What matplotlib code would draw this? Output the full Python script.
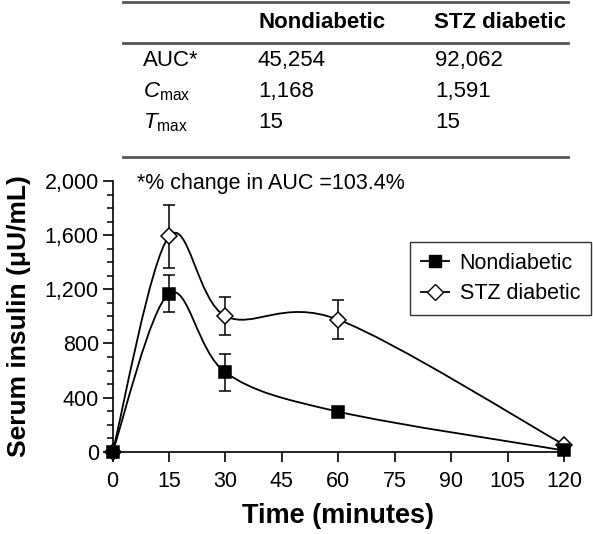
import numpy as np
import matplotlib.pyplot as plt
from matplotlib.lines import Line2D
from matplotlib.path import Path
from matplotlib.patches import PathPatch
from matplotlib.ticker import MultipleLocator, FuncFormatter

plt.rcParams["font.family"] = ["Liberation Sans", "DejaVu Sans"]
plt.rcParams["mathtext.fontset"] = "custom"
plt.rcParams["mathtext.rm"] = "Liberation Sans"
plt.rcParams["mathtext.it"] = "Liberation Sans:italic"

# data
time_min = [0, 15, 30, 60, 120]
nondiabetic = [0, 1168, 586, 296, 10]
nondiabetic_err = [0, 135, 135, 0, 0]
stz_diabetic = [0, 1591, 1002, 976, 52]
stz_diabetic_err = [0, 235, 140, 145, 0]

table_cols = ["Nondiabetic", "STZ diabetic"]
table_rows = ["AUC*", r"$\mathit{C}_{\mathrm{max}}$", r"$\mathit{T}_{\mathrm{max}}$"]
table_nondiabetic = ["45,254", "1,168", "15"]
table_stz = ["92,062", "1,591", "15"]
note = "*% change in AUC =103.4%"


def smooth_path(x, y):
    # bezier "smoothed line" through the points (catmull-rom style controls)
    pts = np.column_stack([x, y]).astype(float)
    n = len(pts)
    verts = [pts[0]]
    codes = [Path.MOVETO]
    for i in range(n - 1):
        prev = pts[i - 1] if i > 0 else pts[i]
        nxt = pts[i + 2] if i + 2 < n else pts[i + 1]
        c1 = pts[i] + (pts[i + 1] - prev) / 6
        c2 = pts[i + 1] - (nxt - pts[i]) / 6
        verts += [c1, c2, pts[i + 1]]
        codes += [Path.CURVE4] * 3
    return Path(verts, codes)


fig = plt.figure(figsize=(5.93, 5.34), dpi=100)
ax = fig.add_axes([0.190, 0.154, 0.761, 0.507])

for vals, err, mk, fc in [
    (stz_diabetic, stz_diabetic_err, "D", "white"),
    (nondiabetic, nondiabetic_err, "s", "black"),
]:
    ax.add_patch(PathPatch(smooth_path(time_min, vals), facecolor="none",
                           edgecolor="black", lw=1.3, zorder=2))
    ax.errorbar(time_min, vals, yerr=err, fmt="none", ecolor="black",
                elinewidth=1.1, capsize=4, capthick=1.1, zorder=3)
    ax.plot(time_min, vals, linestyle="none", marker=mk,
            markersize=9 if mk == "s" else 8, markerfacecolor=fc,
            markeredgecolor="black", markeredgewidth=1.1, zorder=4,
            clip_on=False)

ax.set_xlim(0, 120)
ax.set_ylim(0, 2000)
ax.xaxis.set_major_locator(MultipleLocator(15))
ax.yaxis.set_major_locator(MultipleLocator(400))
ax.yaxis.set_minor_locator(MultipleLocator(100))
ax.yaxis.set_major_formatter(FuncFormatter(lambda v, p: f"{int(v):,}"))
for s in ["top", "right"]:
    ax.spines[s].set_visible(False)
for s in ["left", "bottom"]:
    ax.spines[s].set_linewidth(1.2)
ax.tick_params(axis="both", which="major", direction="out", length=7,
               width=1.2, labelsize=15.5)
ax.tick_params(axis="x", pad=7)
ax.tick_params(axis="y", pad=3)
ax.tick_params(axis="y", which="minor", direction="out", length=4, width=1.1)

ax.set_xlabel("Time (minutes)", fontsize=19.5, fontweight="bold", labelpad=8)
ax.set_ylabel("Serum insulin (\u03bcU/mL)", fontsize=19, fontweight="bold",
              labelpad=10)

handles = [
    Line2D([], [], color="black", lw=1.3, marker="s", markersize=9,
           markerfacecolor="black", markeredgecolor="black"),
    Line2D([], [], color="black", lw=1.3, marker="D", markersize=8,
           markerfacecolor="white", markeredgecolor="black"),
]
leg = fig.legend(handles, ["Nondiabetic", "STZ diabetic"],
                 loc="upper left", bbox_to_anchor=(410 / 593, 1 - 242 / 534),
                 fontsize=15.5, frameon=True, fancybox=False,
                 edgecolor="black", handlelength=1.3, handletextpad=0.5,
                 borderpad=0.5, labelspacing=0.45, borderaxespad=0)
leg.get_frame().set_linewidth(1.0)

fig.text(137 / 593, 1 - 183 / 534, note, fontsize=15.5, va="center",
         ha="left")

# summary table above the plot
def fy(py):
    return 1 - py / 534

for py in [2, 43, 157]:
    fig.add_artist(Line2D([123 / 593, 568 / 593], [fy(py), fy(py)],
                          color="#555555", lw=2))
fig.text(259 / 593, fy(22), table_cols[0], fontsize=16, fontweight="bold",
         va="center", ha="left")
fig.text(434 / 593, fy(22), table_cols[1], fontsize=16, fontweight="bold",
         va="center", ha="left")
for i, py in enumerate([61, 92, 123]):
    fig.text(143 / 593, fy(py), table_rows[i], fontsize=16, va="center",
             ha="left")
    fig.text(258 / 593, fy(py), table_nondiabetic[i], fontsize=16,
             va="center", ha="left")
    fig.text(435 / 593, fy(py), table_stz[i], fontsize=16, va="center",
             ha="left")

fig.savefig("out.png", dpi=100)
